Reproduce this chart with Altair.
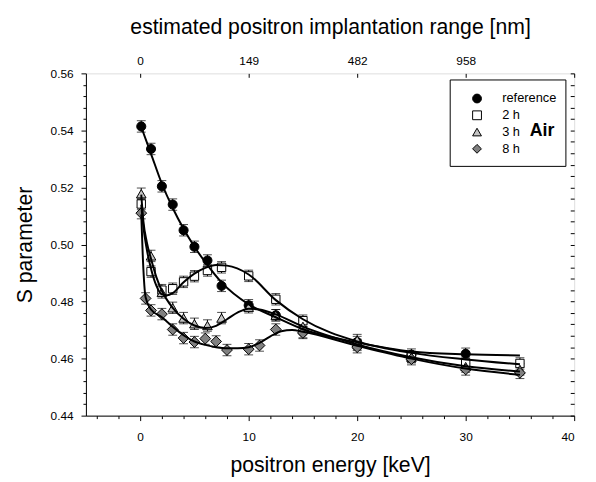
import altair as alt
import pandas as pd

FONT = "Liberation Sans"

SERIES = ["reference", "2 h", "3 h", "8 h"]
SHAPES = ["circle", "square", "triangle-up", "diamond"]
FILLS = ["#000000", "#ffffff", "#c4c4c4", "#808080"]
STROKES = ["#000000", "#000000", "#000000", "#000000"]
SIZES = [85, 72, 95, 120]
ERR = 0.002

# measured points
REF_E = [0.1, 1, 2, 3, 4, 5, 6.2, 7.5, 10, 12.5, 15, 20, 25, 30]
REF_S = [0.5414, 0.5335, 0.5204, 0.5140, 0.5050, 0.4992, 0.4944, 0.4855,
         0.4787, 0.4752, 0.4693, 0.4658, 0.4614, 0.4617]

H2_E = [0.1, 1, 2, 3, 4, 5, 6.2, 7.5, 10, 12.5, 15, 20, 25, 30, 35]
H2_S = [0.5142, 0.4905, 0.4840, 0.4845, 0.4869, 0.4889, 0.4909, 0.4920,
        0.4890, 0.4808, 0.4733, 0.4648, 0.4606, 0.4585, 0.4583]

H3_E = [0.1, 1, 2, 3, 4, 5, 6.2, 7.5, 10, 12.5, 15, 20, 25, 30, 35]
H3_S = [0.5178, 0.4960, 0.4832, 0.4778, 0.4742, 0.4722, 0.4716, 0.4742,
        0.4780, 0.4752, 0.4713, 0.4665, 0.4605, 0.4572, 0.4562]

H8_E = [0.1, 0.5, 1, 2, 3, 4, 5, 6, 7, 8, 10, 11, 12.5, 15, 20, 25, 30, 35]
H8_S = [0.5110, 0.4811, 0.4769, 0.4756, 0.4702, 0.4672, 0.4658, 0.4670,
        0.4660, 0.4630, 0.4633, 0.4646, 0.4702, 0.4690, 0.4640, 0.4598,
        0.4562, 0.4550]

# fitted curves
FIT_REF_E = [0.1, 1, 2, 3, 4, 5, 6, 7.5, 10, 12.5, 15, 20, 25, 30, 35]
FIT_REF_S = [0.5412, 0.5318, 0.5213, 0.5128, 0.5055, 0.4992, 0.4938, 0.4867,
             0.4790, 0.4745, 0.4703, 0.4657, 0.4625, 0.4615, 0.4611]

FIT_2H_E = [0.1, 0.3, 0.6, 1, 1.5, 2, 2.5, 3, 4, 5, 6, 7, 8, 10, 12.5, 15,
            20, 25, 30, 35]
FIT_2H_S = [0.5140, 0.5060, 0.4985, 0.4915, 0.4855, 0.4825, 0.4822, 0.4830,
            0.4868, 0.4898, 0.4918, 0.4928, 0.4926, 0.4895, 0.4805, 0.4738,
            0.4660, 0.4620, 0.4597, 0.4580]

FIT_3H_E = [0.1, 0.3, 0.6, 1, 1.5, 2, 3, 4, 5, 6, 7, 8, 9, 10, 11, 12.5, 15,
            20, 25, 30, 35]
FIT_3H_S = [0.5175, 0.5080, 0.5010, 0.4950, 0.4885, 0.4838, 0.4778, 0.4740,
            0.4716, 0.4707, 0.4715, 0.4738, 0.4762, 0.4775, 0.4772, 0.4755,
            0.4712, 0.4650, 0.4605, 0.4573, 0.4555]

FIT_8H_E = [0.1, 0.25, 0.5, 1, 2, 3, 4, 5, 6, 7, 8, 9, 10, 11, 12, 13, 14,
            15, 20, 25, 30, 35]
FIT_8H_S = [0.5105, 0.4950, 0.4815, 0.4772, 0.4745, 0.4712, 0.4682, 0.4660,
            0.4648, 0.4640, 0.4636, 0.4636, 0.4640, 0.4655, 0.4678, 0.4696,
            0.4700, 0.4694, 0.4645, 0.4600, 0.4565, 0.4543]

# axes
X_MAJOR = [0, 10, 20, 30, 40]
X_MINOR = [-4, -2, 2, 4, 6, 8, 12, 14, 16, 18, 22, 24, 26, 28, 32, 34, 36, 38]
TOP_VALUES = [0, 10, 20, 30, 40]
TOP_LABELS = ["0", "149", "482", "958", ""]
Y_MAJOR = [0.44, 0.46, 0.48, 0.50, 0.52, 0.54, 0.56]
Y_ALL = [0.44, 0.444, 0.448, 0.452, 0.456, 0.46, 0.464, 0.468, 0.472, 0.476,
         0.48, 0.484, 0.488, 0.492, 0.496, 0.50, 0.504, 0.508, 0.512, 0.516,
         0.52, 0.524, 0.528, 0.532, 0.536, 0.54, 0.544, 0.548, 0.552, 0.556,
         0.56]
Y_MINOR = [v for v in Y_ALL if all(abs(v - m) > 1e-6 for m in Y_MAJOR)]

size_of = dict(zip(SERIES, SIZES))
rows = []
for name, es, ss in [("reference", REF_E, REF_S), ("2 h", H2_E, H2_S),
                     ("3 h", H3_E, H3_S), ("8 h", H8_E, H8_S)]:
    for e, s in zip(es, ss):
        rows.append({"series": name, "E": e, "S": s, "lo": s - ERR, "hi": s + ERR,
                     "sz": size_of[name]})
pts = pd.DataFrame(rows)

frows = []
for name, es, ss in [("reference", FIT_REF_E, FIT_REF_S), ("2 h", FIT_2H_E, FIT_2H_S),
                     ("3 h", FIT_3H_E, FIT_3H_S), ("8 h", FIT_8H_E, FIT_8H_S)]:
    for e, s in zip(es, ss):
        frows.append({"curve": name, "E": e, "S": s})
fits = pd.DataFrame(frows)

xscale = alt.Scale(domain=[-5, 40], nice=False, zero=False)
yscale = alt.Scale(domain=[0.44, 0.56], nice=False, zero=False)

top_expr = " : ".join(
    [f"datum.value == {v} ? '{l}'" for v, l in zip(TOP_VALUES, TOP_LABELS)]
) + " : ''"


def make_legend():
    return alt.Legend(
        title=None, orient="none", legendX=390, legendY=19,
        padding=0, cornerRadius=0,
        symbolSize=80, symbolStrokeWidth=1, symbolOpacity=1,
        symbolOffset=0, labelOffset=19, rowPadding=3,
        labelFont=FONT, labelFontSize=13, labelColor="black",
    )


err = alt.Chart(pts).mark_rule(color="black", strokeWidth=1).encode(
    x=alt.X("E:Q", scale=xscale,
            axis=alt.Axis(orient="bottom", values=X_MINOR, labels=False, tickSize=3,
                          domain=False, grid=False, title=None, tickColor="black")),
    y=alt.Y("lo:Q", scale=yscale,
            axis=alt.Axis(orient="left", values=Y_MINOR, labels=False, tickSize=3,
                          domain=False, grid=False, title=None, tickColor="black")),
    y2="hi:Q",
)

cap_lo = alt.Chart(pts).mark_tick(color="black", orient="horizontal", size=9,
                                  thickness=1).encode(
    x=alt.X("E:Q", scale=xscale, axis=None),
    y=alt.Y("lo:Q", scale=yscale, axis=None),
)
cap_hi = alt.Chart(pts).mark_tick(color="black", orient="horizontal", size=9,
                                  thickness=1).encode(
    x=alt.X("E:Q", scale=xscale, axis=None),
    y=alt.Y("hi:Q", scale=yscale, axis=None),
)

points = alt.Chart(pts).mark_point(filled=True, strokeWidth=1, opacity=1).encode(
    x=alt.X("E:Q", scale=xscale,
            axis=alt.Axis(orient="bottom", values=X_MAJOR, tickSize=5, labelPadding=11,
                          domain=True, domainColor="black", tickColor="black",
                          grid=False, format="d", labelFont=FONT, labelFontSize=12,
                          labelColor="black", title="positron energy [keV]",
                          titleFont=FONT, titleFontSize=21.5, titleFontWeight="normal",
                          titleColor="black", titlePadding=13)),
    y=alt.Y("S:Q", scale=yscale,
            axis=alt.Axis(orient="left", values=Y_MAJOR, tickSize=5, labelPadding=8,
                          domain=True, domainColor="black", tickColor="black",
                          grid=False, format=".2f", labelFont=FONT, labelFontSize=12,
                          labelColor="black", title="S parameter",
                          titleFont=FONT, titleFontSize=21.5, titleFontWeight="normal",
                          titleColor="black", titlePadding=14)),
    shape=alt.Shape("series:N", scale=alt.Scale(domain=SERIES, range=SHAPES),
                    legend=make_legend()),
    fill=alt.Fill("series:N", scale=alt.Scale(domain=SERIES, range=FILLS),
                  legend=make_legend()),
    stroke=alt.Stroke("series:N", scale=alt.Scale(domain=SERIES, range=STROKES),
                      legend=make_legend()),
    size=alt.Size("sz:Q", scale=None, legend=None),
)

lines = alt.Chart(fits).mark_line(color="black", strokeWidth=2,
                                  interpolate="monotone").encode(
    x=alt.X("E:Q", scale=xscale,
            axis=alt.Axis(orient="top", values=TOP_VALUES, tickSize=4, offset=-4,
                          labelPadding=6, domain=False, tickColor="black", grid=False,
                          labelExpr=top_expr, labelFont=FONT, labelFontSize=12,
                          labelColor="black",
                          title="estimated positron implantation range [nm]",
                          titleFont=FONT, titleFontSize=21.5, titleFontWeight="normal",
                          titleColor="black", titlePadding=16)),
    y=alt.Y("S:Q", scale=yscale,
            axis=alt.Axis(orient="right", values=Y_ALL, tickSize=4, offset=-4,
                          labels=False, domain=False, tickColor="black", grid=False,
                          title=None)),
    detail="curve:N",
)

# legend frame and annotation (pixel positions inside the plot area)
frame = alt.Chart(pd.DataFrame({"k": [0]})).mark_rect(
    fill=None, stroke="black", strokeWidth=1
).encode(x=alt.value(369.3), x2=alt.value(486.6), y=alt.value(6.7), y2=alt.value(94.3))

air = alt.Chart(pd.DataFrame({"t": ["Air"]})).mark_text(
    font=FONT, fontSize=18, fontWeight="bold", align="left", baseline="middle",
    color="black",
).encode(x=alt.value(450), y=alt.value(59), text="t:N")

chart = alt.layer(err, cap_lo, cap_hi, points, lines, frame, air).resolve_axis(
    x="independent", y="independent"
).properties(
    width=495, height=347,
    autosize=alt.AutoSizeParams(type="none"),
    padding={"left": 79, "top": 63, "right": 14, "bottom": 64},
).configure_view(stroke="black", strokeWidth=1).configure(background="white")

chart.save("out.html", embed_options={"renderer": "svg", "actions": False})
